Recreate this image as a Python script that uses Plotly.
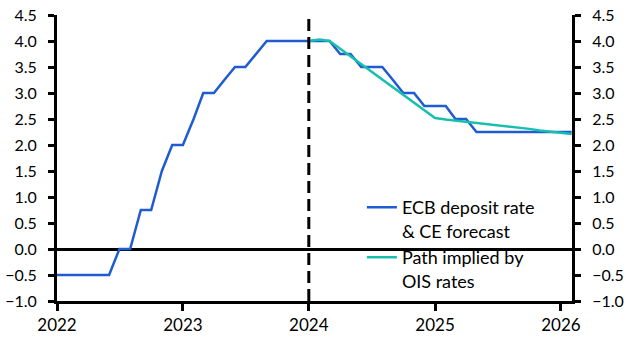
import plotly.graph_objects as go

# ---- data ----
ecb_dates = [
    "2022-01-01", "2022-02-01", "2022-03-01", "2022-04-01", "2022-05-01", "2022-06-01",
    "2022-07-01", "2022-08-01", "2022-09-01", "2022-10-01", "2022-11-01", "2022-12-01",
    "2023-01-01", "2023-02-01", "2023-03-01", "2023-04-01", "2023-05-01", "2023-06-01",
    "2023-07-01", "2023-08-01", "2023-09-01", "2023-10-01", "2023-11-01", "2023-12-01",
    "2024-01-01", "2024-02-01", "2024-03-01", "2024-04-01", "2024-05-01", "2024-06-01",
    "2024-07-01", "2024-08-01", "2024-09-01", "2024-10-01", "2024-11-01", "2024-12-01",
    "2025-01-01", "2025-02-01", "2025-03-01", "2025-04-01", "2025-05-01", "2025-06-01",
    "2025-07-01", "2025-08-01", "2025-09-01", "2025-10-01", "2025-11-01", "2025-12-01",
    "2026-01-01", "2026-02-01",
]
ecb_rate = [
    -0.5, -0.5, -0.5, -0.5, -0.5, -0.5,
    0.0, 0.0, 0.75, 0.75, 1.5, 2.0,
    2.0, 2.5, 3.0, 3.0, 3.25, 3.5,
    3.5, 3.75, 4.0, 4.0, 4.0, 4.0,
    4.0, 4.0, 4.0, 3.75, 3.75, 3.5,
    3.5, 3.5, 3.25, 3.0, 3.0, 2.75,
    2.75, 2.75, 2.5, 2.5, 2.25, 2.25,
    2.25, 2.25, 2.25, 2.25, 2.25, 2.25,
    2.25, 2.25,
]

ois_dates = [
    "2024-01-01", "2024-02-01", "2024-03-01", "2024-04-01", "2024-05-01", "2024-06-01",
    "2024-07-01", "2024-08-01", "2024-09-01", "2024-10-01", "2024-11-01", "2024-12-01",
    "2025-01-01", "2025-02-01", "2025-03-01", "2025-04-01", "2025-05-01", "2025-06-01",
    "2025-07-01", "2025-08-01", "2025-09-01", "2025-10-01", "2025-11-01", "2025-12-01",
    "2026-01-01", "2026-02-01",
]
ois_rate = [
    4.0, 4.03, 4.0, 3.85, 3.71, 3.56,
    3.41, 3.26, 3.12, 2.97, 2.82, 2.67,
    2.52, 2.49, 2.47, 2.45, 2.42, 2.40,
    2.38, 2.35, 2.33, 2.31, 2.28, 2.26,
    2.24, 2.21,
]

y_ticks = [-1.0, -0.5, 0.0, 0.5, 1.0, 1.5, 2.0, 2.5, 3.0, 3.5, 4.0, 4.5]
y_range = [-1.0, 4.5]
x_range = ["2022-01-01", "2026-02-02"]
forecast_start = "2024-01-01"

BLUE = "#1f5bd1"
TEAL = "#19bfae"
FONT = "Lato"

fig = go.Figure()
fig.add_trace(go.Scatter(
    x=ecb_dates, y=ecb_rate, mode="lines",
    line=dict(color=BLUE, width=2.5),
    name="ECB deposit rate<br>& CE forecast",
))
fig.add_trace(go.Scatter(
    x=ois_dates, y=ois_rate, mode="lines",
    line=dict(color=TEAL, width=2.5),
    name="Path implied by<br>OIS rates",
))
# invisible trace to activate the right-hand axis
fig.add_trace(go.Scatter(
    x=ecb_dates, y=ecb_rate, mode="lines", yaxis="y2",
    line=dict(color="rgba(0,0,0,0)", width=0), showlegend=False, hoverinfo="skip",
))

fig.add_shape(
    type="line", xref="x", yref="y",
    x0=forecast_start, x1=forecast_start, y0=y_range[0], y1=y_range[1],
    line=dict(color="black", width=3, dash="12px,6px"),
)

axis_common = dict(
    range=y_range, tickvals=y_ticks, tickformat=".1f",
    showgrid=False, showline=True, linecolor="black", linewidth=3,
    ticks="outside", ticklen=6, tickwidth=2.5, tickcolor="black",
    ticklabelstandoff=8, automargin=False,
    tickfont=dict(family=FONT, size=16, color="black"),
    fixedrange=True,
)

fig.update_layout(
    width=630, height=349,
    margin=dict(l=57, r=58, t=15, b=48, autoexpand=False),
    paper_bgcolor="white", plot_bgcolor="white",
    font=dict(family=FONT, color="black"),
    showlegend=True,
    legend=dict(
        x=0.592, y=0.391, xanchor="left", yanchor="top",
        bgcolor="rgba(0,0,0,0)", borderwidth=0,
        font=dict(family=FONT, size=18, color="black"),
        valign="top", tracegroupgap=10,
    ),
    xaxis=dict(
        type="date", range=x_range,
        tick0="2022-01-01", dtick="M12", tickformat="%Y",
        showgrid=False, showline=True, linecolor="black", linewidth=3,
        ticks="outside", ticklen=7, tickwidth=2.5, tickcolor="black",
        tickfont=dict(family=FONT, size=17, color="black"),
        zeroline=False, automargin=False,
    ),
    yaxis=dict(**axis_common, side="left", zeroline=True,
               zerolinecolor="black", zerolinewidth=3),
    yaxis2=dict(**axis_common, side="right", overlaying="y", zeroline=False),
)

fig.write_html("out.html")
